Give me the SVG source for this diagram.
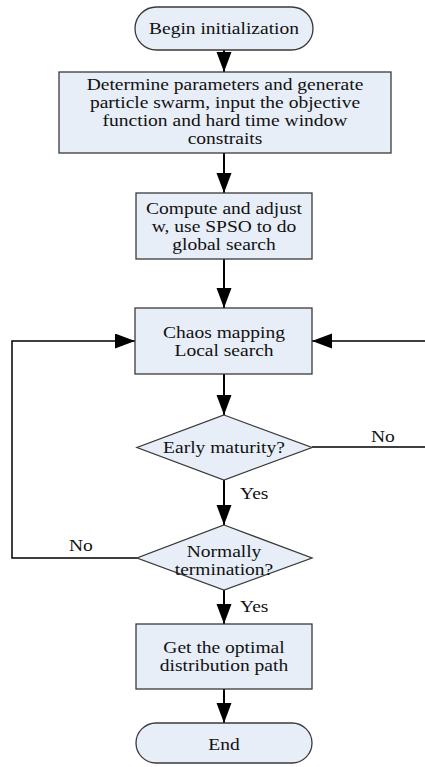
<svg xmlns="http://www.w3.org/2000/svg" width="425" height="767" viewBox="0 0 425 767">
<defs>
<marker id="ah" markerUnits="userSpaceOnUse" markerWidth="20" markerHeight="16" refX="20" refY="7.5" orient="auto">
<path d="M0,0 L20,7.5 L0,15 z" fill="#000"/>
</marker>
<style>
.n{fill:#E8EEF7;stroke:#3a3a3a;stroke-width:1.3}
.t{font-size:16px;fill:#111;text-anchor:middle}
.l{font-size:16px;fill:#111}
.c{fill:none;stroke:#000;stroke-width:2}
.s{fill:none;stroke:#000;stroke-width:1.5}
</style>
</defs>
<rect width="425" height="767" fill="#fff"/>
<g font-family="Liberation Serif, Times New Roman, serif">
<g id="connectors">
<line class="c" x1="224" y1="50" x2="224" y2="72" marker-end="url(#ah)"/>
<line class="c" x1="224" y1="153" x2="224" y2="193" marker-end="url(#ah)"/>
<line class="c" x1="224" y1="259" x2="224" y2="308" marker-end="url(#ah)"/>
<line class="c" x1="224" y1="374" x2="224" y2="415" marker-end="url(#ah)"/>
<line class="c" x1="224" y1="480" x2="224" y2="525" marker-end="url(#ah)"/>
<line class="c" x1="224" y1="590" x2="224" y2="624" marker-end="url(#ah)"/>
<line class="c" x1="224" y1="689" x2="224" y2="723" marker-end="url(#ah)"/>
<polyline class="s" points="312,447 426,447 426,341 312,341" marker-end="url(#ah)"/>
<polyline class="s" points="137,558 12,558 12,341 135,341" marker-end="url(#ah)"/>
<text class="l" transform="translate(371 442) scale(1.22 1)">No</text>
<text class="l" transform="translate(240 499) scale(1.22 1)">Yes</text>
<text class="l" transform="translate(69 551) scale(1.22 1)">No</text>
<text class="l" transform="translate(240 612) scale(1.22 1)">Yes</text>
</g>
<g id="begin">
<rect class="n" x="135" y="7" width="178" height="43" rx="21.5"/>
<text class="t" transform="translate(224 34) scale(1.22 1)">Begin initialization</text>
</g>
<g id="init">
<rect class="n" x="59" y="72" width="332" height="81"/>
<text class="t" transform="translate(225 90) scale(1.22 1)">Determine parameters and generate</text>
<text class="t" transform="translate(225 108) scale(1.22 1)">particle swarm, input the objective</text>
<text class="t" transform="translate(225 126) scale(1.22 1)">function and hard time window</text>
<text class="t" transform="translate(225 144) scale(1.22 1)">constraits</text>
</g>
<g id="global">
<rect class="n" x="136" y="193" width="176" height="66"/>
<text class="t" transform="translate(224 214) scale(1.22 1)">Compute and adjust</text>
<text class="t" transform="translate(224 232) scale(1.22 1)">w, use SPSO to do</text>
<text class="t" transform="translate(224 250) scale(1.22 1)">global search</text>
</g>
<g id="chaos">
<rect class="n" x="135" y="308" width="177" height="66"/>
<text class="t" transform="translate(224 338) scale(1.22 1)">Chaos mapping</text>
<text class="t" transform="translate(224 356) scale(1.22 1)">Local search</text>
</g>
<g id="early">
<polygon class="n" points="224,415 312,447.5 224,480 137,447.5"/>
<text class="t" transform="translate(224 453) scale(1.22 1)">Early maturity?</text>
</g>
<g id="normal">
<polygon class="n" points="224,525 312,558 224,590 137,558"/>
<text class="t" transform="translate(224 557) scale(1.22 1)">Normally</text>
<text class="t" transform="translate(224 575) scale(1.22 1)">termination?</text>
</g>
<g id="optimal">
<rect class="n" x="136" y="624" width="176" height="65"/>
<text class="t" transform="translate(224 653) scale(1.22 1)">Get the optimal</text>
<text class="t" transform="translate(224 671) scale(1.22 1)">distribution path</text>
</g>
<g id="end">
<rect class="n" x="136" y="723" width="176" height="40" rx="20"/>
<text class="t" transform="translate(224 750) scale(1.22 1)">End</text>
</g>
</g>
</svg>
